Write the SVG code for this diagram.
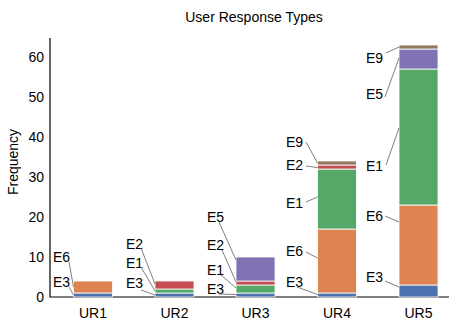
<svg xmlns="http://www.w3.org/2000/svg" width="449" height="320" viewBox="0 0 449 320">
<style>
text{font-family:"Liberation Sans",Arial,sans-serif;font-size:14px;fill:#000}
.t{text-anchor:end}
.c{text-anchor:middle}
.seg rect{stroke:#fff;stroke-width:0.8}
.E3{fill:#4C72B0}.E6{fill:#DD8452}.E1{fill:#55A868}.E2{fill:#C44E52}.E5{fill:#8172B3}.E9{fill:#937860}
.lead line{stroke:#7f7f7f;stroke-width:1}
.ax{stroke:#000;stroke-width:1.2;fill:none}
</style>
<rect width="449" height="320" fill="#fff"/>
<text class="c" x="254" y="22">User Response Types</text>
<g id="axes">
<path class="ax" d="M50,38V297H449"/>
<text class="t" x="44" y="302">0</text>
<text class="t" x="44" y="262">10</text>
<text class="t" x="44" y="222">20</text>
<text class="t" x="44" y="182">30</text>
<text class="t" x="44" y="142">40</text>
<text class="t" x="44" y="102">50</text>
<text class="t" x="44" y="62">60</text>
<text class="c" transform="translate(18,162) rotate(-90)">Frequency</text>
<text class="c" x="93" y="318">UR1</text>
<text class="c" x="174.5" y="318">UR2</text>
<text class="c" x="255.5" y="318">UR3</text>
<text class="c" x="337" y="318">UR4</text>
<text class="c" x="418.5" y="318">UR5</text>
</g>
<g id="UR1" class="seg">
<rect class="E3" x="73.5" y="293" width="39" height="4"/>
<rect class="E6" x="73.5" y="281" width="39" height="12"/>
<text x="53" y="262">E6</text>
<text x="53" y="287">E3</text>
</g>
<g id="UR2" class="seg">
<rect class="E3" x="155" y="293" width="39" height="4"/>
<rect class="E1" x="155" y="289" width="39" height="4"/>
<rect class="E2" x="155" y="281" width="39" height="8"/>
<text x="126" y="249">E2</text>
<text x="126" y="268">E1</text>
<text x="126" y="288">E3</text>
</g>
<g id="UR3" class="seg">
<rect class="E3" x="236" y="293" width="39" height="4"/>
<rect class="E1" x="236" y="285" width="39" height="8"/>
<rect class="E2" x="236" y="281" width="39" height="4"/>
<rect class="E5" x="236" y="257" width="39" height="24"/>
<text x="207" y="222">E5</text>
<text x="207" y="250">E2</text>
<text x="207" y="275">E1</text>
<text x="207" y="294">E3</text>
</g>
<g id="UR4" class="seg">
<rect class="E3" x="317.5" y="293" width="39" height="4"/>
<rect class="E6" x="317.5" y="229" width="39" height="64"/>
<rect class="E1" x="317.5" y="169" width="39" height="60"/>
<rect class="E2" x="317.5" y="165" width="39" height="4"/>
<rect class="E9" x="317.5" y="161" width="39" height="4"/>
<text x="286" y="147">E9</text>
<text x="286" y="170">E2</text>
<text x="286" y="208">E1</text>
<text x="286" y="256">E6</text>
<text x="286" y="287">E3</text>
</g>
<g id="UR5" class="seg">
<rect class="E3" x="399" y="285" width="39" height="12"/>
<rect class="E6" x="399" y="205" width="39" height="80"/>
<rect class="E1" x="399" y="69" width="39" height="136"/>
<rect class="E5" x="399" y="49" width="39" height="20"/>
<rect class="E9" x="399" y="45" width="39" height="4"/>
<text x="366" y="63">E9</text>
<text x="366" y="99">E5</text>
<text x="366" y="171">E1</text>
<text x="366" y="221">E6</text>
<text x="366" y="282">E3</text>
</g>
<g id="connectors" class="lead">
<line x1="69" y1="262" x2="73.5" y2="287"/>
<line x1="69" y1="287" x2="73.5" y2="295"/>
<line x1="141" y1="248" x2="155" y2="284"/>
<line x1="141" y1="267" x2="155" y2="291"/>
<line x1="141" y1="290" x2="155" y2="295"/>
<line x1="219" y1="222" x2="236" y2="260"/>
<line x1="222" y1="250" x2="236" y2="282"/>
<line x1="221" y1="275" x2="236" y2="288"/>
<line x1="219" y1="294" x2="236" y2="294.5"/>
<line x1="306" y1="142" x2="317.5" y2="163"/>
<line x1="306" y1="166" x2="317.5" y2="167.5"/>
<line x1="306" y1="202" x2="317.5" y2="197"/>
<line x1="306" y1="252" x2="317.5" y2="258"/>
<line x1="297" y1="287" x2="317.5" y2="294.5"/>
<line x1="386" y1="53" x2="399" y2="47"/>
<line x1="385" y1="97" x2="399" y2="58"/>
<line x1="386" y1="165" x2="399" y2="128"/>
<line x1="385" y1="216" x2="399" y2="222"/>
<line x1="385" y1="281" x2="399" y2="287"/>
</g>
</svg>
